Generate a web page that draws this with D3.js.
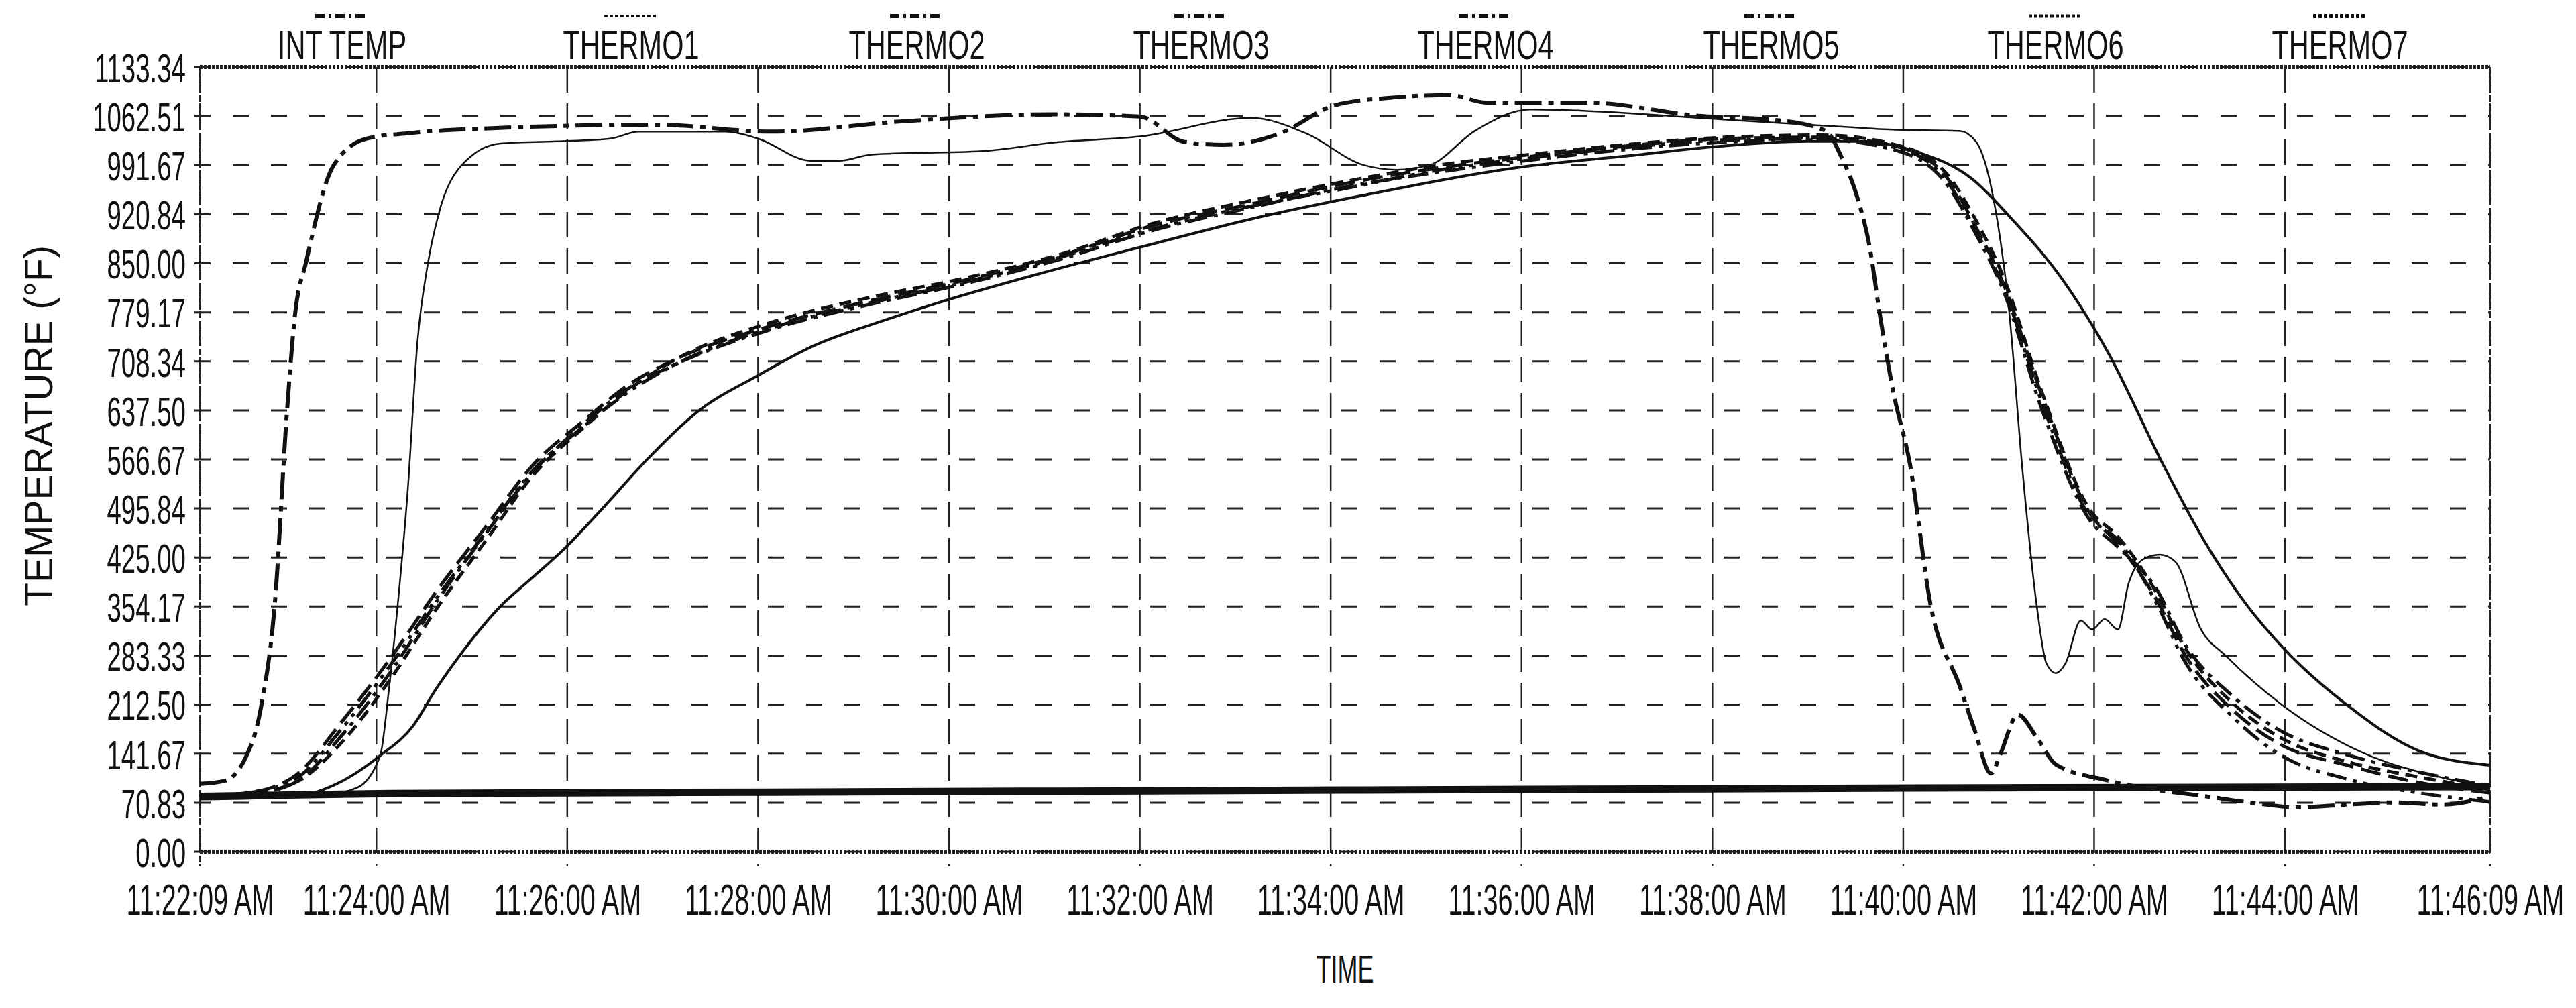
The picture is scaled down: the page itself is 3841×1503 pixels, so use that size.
<!DOCTYPE html>
<html><head><meta charset="utf-8">
<script src="https://cdn.jsdelivr.net/npm/d3@7"></script>
<style>body{margin:0;background:#fff}svg{display:block}text{font-family:"Liberation Sans",Arial,sans-serif;fill:#111}</style>
</head><body><svg id="c" width="3841" height="1503"></svg>
<script>
// time in minutes after 11:22:09 AM
const seriesNames = ["INT TEMP","THERMO1","THERMO2","THERMO3","THERMO4","THERMO5","THERMO6","THERMO7"];
const yTicks = [0,70.83,141.67,212.5,283.33,354.17,425,495.84,566.67,637.5,708.34,779.17,850,920.84,991.67,1062.51,1133.34];
const xTickMinutes = [0,1.85,3.85,5.85,7.85,9.85,11.85,13.85,15.85,17.85,19.85,21.85,24];
const xTickLabels = ["11:22:09 AM","11:24:00 AM","11:26:00 AM","11:28:00 AM","11:30:00 AM","11:32:00 AM","11:34:00 AM","11:36:00 AM","11:38:00 AM","11:40:00 AM","11:42:00 AM","11:44:00 AM","11:46:09 AM"];

const intT = [[0,98],[0.25,102],[0.49,139],[0.64,208],[0.79,366],[0.91,630],[1.0,779],[1.11,850],[1.4,991],[1.75,1030],[2.2,1038],[3.06,1045],[4.79,1050],[5.99,1040],[7.37,1055],[8.92,1065],[9.85,1062],[10.32,1025],[10.73,1021],[11.31,1037],[11.89,1078],[12.47,1089],[13.1,1093],[13.48,1082],[14.53,1082],[15.7,1063],[16.57,1056],[17.04,1041],[17.2,1004],[17.38,940],[17.5,872],[17.6,780],[17.74,668],[17.92,560],[18.14,354],[18.44,240],[18.6,175],[18.77,113],[18.87,142],[19.05,198],[19.25,165],[19.45,126],[19.96,104],[20.47,90],[20.97,81],[21.48,71],[21.99,64],[22.5,68],[23.0,71],[23.5,68],[24,80]];
const thermo1 = [[0,80],[1.2,80],[1.64,92],[1.89,139],[1.98,233],[2.08,366],[2.18,525],[2.28,736],[2.39,850],[2.5,920],[2.74,991],[3.15,1023],[3.74,1026],[4.3,1030],[4.6,1040],[5.5,1040],[5.85,1030],[6.4,998],[6.7,998],[7.04,1007],[8.2,1012],[9.0,1025],[9.85,1033],[11.02,1060],[11.6,1037],[12.19,992],[12.54,985],[12.89,992],[13.36,1041],[13.94,1072],[14.53,1070],[15.7,1060],[16.86,1050],[17.74,1043],[18.44,1041],[18.61,1026],[18.79,947],[18.96,780],[19.1,550],[19.25,354],[19.35,272],[19.45,258],[19.55,272],[19.71,334],[19.83,321],[19.96,336],[20.1,321],[20.21,387],[20.37,423],[20.54,429],[20.7,419],[20.97,321],[21.23,283],[21.82,212],[22.65,144],[23.5,107],[24,94]];
const thermo2 = [[0,80],[0.5,85],[1.0,110],[1.5,190],[2.0,280],[2.5,380],[3.0,470],[3.5,560],[4.0,620],[4.5,675],[5.0,712],[6.0,760],[7.0,795],[8.0,825],[9.0,860],[10.0,905],[11.0,935],[12.0,965],[13.0,988],[14.0,1005],[15.0,1020],[16.0,1030],[17.0,1032],[17.8,1018],[18.3,975],[18.6,905],[18.9,820],[19.3,660],[19.8,490],[20.1,445],[20.5,365],[20.8,285],[21.3,205],[21.8,155],[22.5,125],[23.25,100],[24,85]];
const thermo3 = [[0,78],[0.5,82],[1.0,100],[1.5,170],[2.0,260],[2.5,365],[3.0,460],[3.5,550],[4.0,615],[4.5,670],[5.0,705],[6.0,755],[7.0,790],[8.0,820],[9.0,855],[10.0,898],[11.0,930],[12.0,960],[13.0,982],[14.0,1000],[15.0,1015],[16.0,1025],[17.0,1028],[17.8,1012],[18.3,965],[18.6,895],[18.9,810],[19.3,640],[19.8,480],[20.1,440],[20.5,380],[20.8,300],[21.3,225],[21.8,175],[22.5,140],[23.25,115],[24,95]];
const thermo4 = [[0,80],[0.5,85],[1.0,105],[1.5,180],[2.0,270],[2.5,370],[3.0,462],[3.5,552],[4.0,612],[4.5,665],[5.0,705],[6.0,757],[7.0,792],[8.0,822],[9.0,858],[10.0,900],[11.0,932],[12.0,958],[13.0,985],[14.0,1003],[15.0,1018],[16.0,1028],[17.0,1030],[17.8,1016],[18.3,970],[18.6,900],[18.9,815],[19.3,650],[19.8,485],[20.1,450],[20.5,360],[20.8,275],[21.3,195],[21.8,140],[22.5,105],[23.25,85],[24,72]];
const thermo5 = [[0,80],[0.5,84],[1.0,100],[1.5,160],[2.0,250],[2.5,355],[3.0,450],[3.5,545],[4.0,610],[4.5,668],[5.0,712],[6.0,765],[7.0,800],[8.0,828],[9.0,862],[10.0,908],[11.0,940],[12.0,968],[13.0,992],[14.0,1008],[15.0,1022],[16.0,1032],[17.0,1035],[17.8,1020],[18.3,980],[18.6,915],[18.9,830],[19.3,665],[19.8,495],[20.1,455],[20.5,375],[20.8,295],[21.3,215],[21.8,165],[22.5,130],[23.25,108],[24,90]];
const thermo6 = [[0,76],[0.99,80],[1.49,102],[1.89,139],[2.23,181],[2.47,234],[2.77,292],[3.16,356],[3.46,393],[3.8,435],[4.2,493],[4.69,567],[5.23,637],[5.85,688],[6.42,730],[7.16,767],[7.74,793],[8.8,835],[9.85,873],[11.02,914],[12.19,948],[13.85,989],[15.1,1007],[15.85,1018],[16.84,1026],[17.4,1026],[17.99,1011],[18.57,972],[19.0,912],[19.5,830],[20.0,720],[20.57,560],[21.0,450],[21.43,360],[21.82,296],[22.5,212],[23.25,146],[24,125]];
const thermo7 = [[0,80],[2,84],[6,86],[12,89],[18,92],[24,94]];

const data = [intT,thermo1,thermo2,thermo3,thermo4,thermo5,thermo6,thermo7];
const styles = [
 {w:6,d:"40,10,8,10"},{w:2.5,d:null},{w:5,d:"30,12"},{w:5,d:"30,10,6,10"},
 {w:5,d:"30,10,6,10,6,10"},{w:5,d:"18,10"},{w:4,d:null},{w:11,d:null}];

const L=298,R=3713,T=100,B=1270, SX=0.62;
const svg=d3.select("#c");
const x=d3.scaleLinear().domain([0,24]).range([L,R]);
const y=d3.scaleLinear().domain([0,1133.34]).range([B,T]);

svg.append("g").selectAll("line").data(yTicks).join("line")
 .attr("x1",L-8).attr("x2",R).attr("y1",d=>y(d)).attr("y2",d=>y(d))
 .attr("stroke","#222").attr("stroke-width",3).attr("stroke-dasharray","24,33");
svg.append("g").selectAll("line").data(xTickMinutes).join("line")
 .attr("x1",d=>x(d)).attr("x2",d=>x(d)).attr("y1",T).attr("y2",B+22)
 .attr("stroke","#222").attr("stroke-width",2.5).attr("stroke-dasharray","38,16");
svg.append("line").attr("x1",L).attr("x2",R).attr("y1",T).attr("y2",T).attr("stroke","#222").attr("stroke-width",6).attr("stroke-dasharray","4,2");
svg.append("line").attr("x1",L).attr("x2",R).attr("y1",B).attr("y2",B).attr("stroke","#222").attr("stroke-width",6).attr("stroke-dasharray","4,2");
svg.append("line").attr("x1",L).attr("x2",L).attr("y1",T).attr("y2",B+22).attr("stroke","#222").attr("stroke-width",3).attr("stroke-dasharray","10,4");
svg.append("line").attr("x1",R).attr("x2",R).attr("y1",T).attr("y2",B).attr("stroke","#222").attr("stroke-width",3).attr("stroke-dasharray","10,4");

const yAx=svg.append("g").attr("transform",`translate(${L-18},0)`)
 .call(d3.axisLeft(y).tickValues(yTicks).tickSize(0).tickFormat(d3.format(".2f")));
yAx.select(".domain").remove();
yAx.selectAll("text").attr("font-size",62).attr("fill","#111")
 .each(function(){const s=d3.select(this);const xx=+s.attr("x")||0;s.attr("x",xx/SX).attr("transform",`scale(${SX},1)`).attr("dy","0.36em");});
const xAx=svg.append("g").attr("transform",`translate(0,${B+40})`)
 .call(d3.axisBottom(x).tickValues(xTickMinutes).tickSize(0).tickFormat((d,i)=>xTickLabels[i]));
xAx.select(".domain").remove();
xAx.selectAll(".tick").each(function(){
 const g=d3.select(this);const tr=g.attr("transform");const px=+tr.match(/translate\(([-\d.]+)/)[1];
 g.attr("transform",`translate(${px},0) scale(${SX},1)`);
});
xAx.selectAll("text").attr("font-size",64).attr("fill","#111").attr("dy","0.8em");

const line=d3.line().x(d=>x(d[0])).y(d=>y(d[1])).curve(d3.curveMonotoneX);
const order=[7,6,5,4,3,2,1,0];
svg.append("g").selectAll("path").data(order).join("path")
 .attr("d",i=>line(data[i])).attr("fill","none").attr("stroke","#111")
 .attr("stroke-width",i=>styles[i].w).attr("stroke-dasharray",i=>styles[i].d)
 .attr("stroke-linejoin","round");

const legX=[510,941,1367,1791,2215,2641,3065,3489];
const lg=svg.append("g").selectAll("g").data(seriesNames).join("g")
 .attr("transform",(d,i)=>`translate(${legX[i]},0)`);
lg.append("line").attr("x1",-40).attr("x2",40).attr("y1",24).attr("y2",24)
 .attr("stroke","#111").attr("stroke-width",(d,i)=>Math.min(6,styles[i].w+1)).attr("stroke-dasharray",(d,i)=>styles[i].d?"14,6,4,6":"5,3");
lg.append("text").text(d=>d).attr("font-size",62).attr("text-anchor","middle")
 .attr("transform",`translate(0,88) scale(${SX+0.05},1)`);

svg.append("text").text("TEMPERATURE (°F)").attr("font-size",60).attr("text-anchor","middle")
 .attr("transform",`translate(78,${(T+B)/2-50}) rotate(-90) scale(0.95,1)`);
svg.append("text").text("TIME").attr("font-size",58).attr("text-anchor","middle")
 .attr("transform",`translate(${(L+R)/2},1465) scale(${SX},1)`);
</script></body></html>
